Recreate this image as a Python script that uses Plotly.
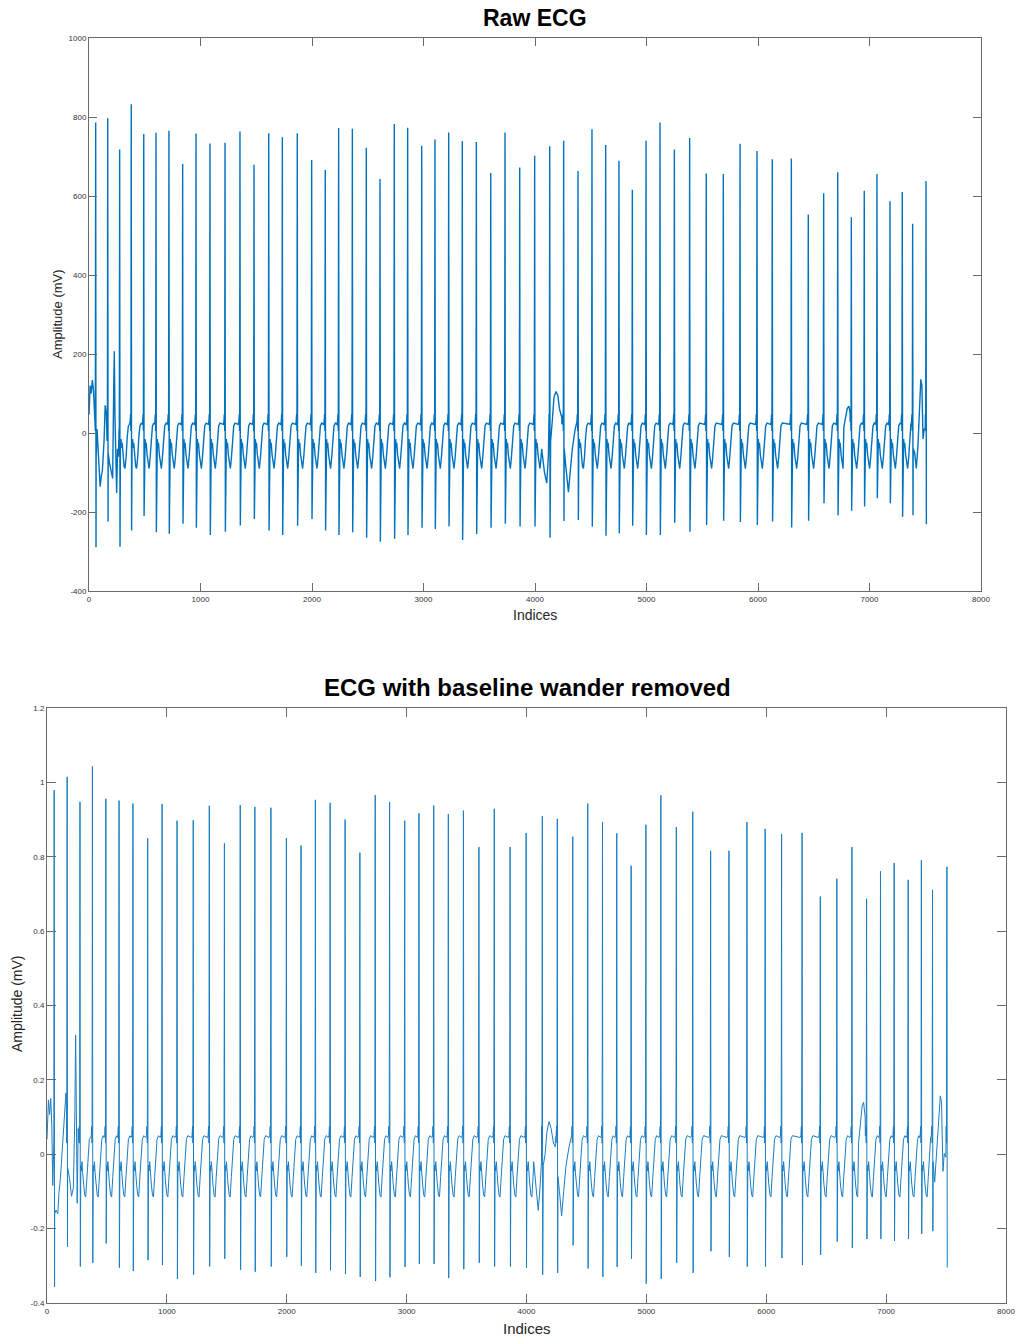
import plotly.graph_objects as go

# ---------------- data ----------------
beat_idx = [60, 168, 275, 379, 491, 601, 717, 840, 960, 1085, 1220, 1354, 1480, 1612, 1734, 1868,
            1997, 2119, 2239, 2362, 2487, 2610, 2738, 2858, 2984, 3103, 3226, 3348, 3474, 3603, 3731, 3863,
            3997, 4132, 4257, 4386, 4511, 4634, 4753, 4873, 4996, 5121, 5250, 5387, 5536, 5689, 5839,
            5991, 6128, 6299, 6451, 6589, 6715, 6837, 6953, 7067, 7184, 7294, 7387, 7507]

raw_r = [786, 797, 718, 832, 757, 760, 765, 681, 758, 733, 735, 763, 679, 759, 749, 759,
         691, 666, 772, 770, 722, 643, 782, 773, 727, 743, 761, 739, 737, 658, 761, 672,
         702, 726, 740, 663, 769, 729, 689, 616, 740, 786, 718, 747, 657, 656, 732,
         714, 693, 695, 553, 607, 660, 546, 613, 656, 587, 610, 530, 638]
raw_s = [-289, -224, -288, -247, -210, -251, -255, -230, -240, -258, -250, -234, -218, -247, -258, -235,
         -218, -247, -258, -251, -265, -275, -268, -258, -240, -243, -236, -271, -256, -240, -230, -237,
         -237, -265, -223, -220, -237, -260, -254, -235, -258, -258, -227, -250, -233, -222, -225,
         -233, -224, -239, -222, -178, -208, -197, -186, -165, -178, -212, -208, -231]

clean_r = [0.979, 1.015, 0.948, 1.043, 0.956, 0.951, 0.943, 0.850, 0.942, 0.897, 0.898, 0.937, 0.836,
           0.939, 0.934, 0.932, 0.850, 0.830, 0.953, 0.945, 0.900, 0.811, 0.966, 0.947, 0.897, 0.917,
           0.938, 0.915, 0.924, 0.826, 0.929, 0.826, 0.864, 0.909, 0.902, 0.854, 0.943, 0.893, 0.863,
           0.776, 0.886, 0.965, 0.880, 0.921, 0.816, 0.816, 0.893, 0.875, 0.861, 0.864, 0.693, 0.741,
           0.826, 0.687, 0.761, 0.783, 0.738, 0.791, 0.711, 0.773]
clean_s = [-0.357, -0.249, -0.302, -0.292, -0.240, -0.305, -0.314, -0.285, -0.298, -0.335, -0.324,
           -0.302, -0.281, -0.311, -0.316, -0.302, -0.276, -0.300, -0.319, -0.312, -0.322, -0.330,
           -0.341, -0.331, -0.303, -0.295, -0.295, -0.333, -0.309, -0.292, -0.302, -0.302, -0.305,
           -0.324, -0.319, -0.245, -0.307, -0.330, -0.303, -0.281, -0.348, -0.335, -0.292, -0.319,
           -0.261, -0.276, -0.302, -0.302, -0.279, -0.298, -0.271, -0.235, -0.252, -0.228, -0.228,
           -0.233, -0.228, -0.214, -0.207, -0.305]

# typical beat morphology (sample offset from R peak, level)
wave_offsets = [-16, -10, -6, -3, 7, 12, 17, 22, 30, 40, 48, 58, 68, 78, 90]
raw_wave = [22, 28, 48, 5, -30, -15, -38, -25, -55, -85, -90, -60, -10, 18, 25]
clean_wave = [0.045, 0.05, 0.075, 0.03, -0.03, -0.045, -0.02, -0.05, -0.08, -0.11, -0.115,
              -0.06, 0.01, 0.04, 0.05]
s_offset = 3

# irregular stretches (artefacts / baseline wander)
raw_art_x = [[0, 10, 20, 30, 40, 50, 56],
             [64, 72, 80, 92, 100, 110, 120, 135, 145, 155, 162],
             [172, 185, 200, 212, 222, 227, 233, 248, 256, 264, 270],
             [4060, 4085, 4105, 4120],
             [4140, 4155, 4170, 4188, 4205, 4220, 4240],
             [4262, 4275, 4290, 4300, 4315, 4335, 4360],
             [6770, 6785, 6800, 6815, 6825],
             [7392, 7405, 7420, 7435, 7448, 7460, 7470, 7480, 7490, 7500]]
raw_art_y = [[46, 120, 100, 134, 110, 60, 20],
             [-60, 10, -40, -100, -136, -110, -95, -20, 70, 50, -20],
             [-50, -78, -100, -115, 120, 207, 40, -152, -40, -60, 10],
             [-40, -100, -127, -60],
             [-20, 30, 90, 105, 95, 60, 40],
             [-40, -80, -130, -150, -100, -40, 10],
             [15, 40, 62, 68, 55],
             [-40, -50, -90, -30, 60, 136, 120, -15, 10, 12]]

clean_art_x = [[0, 12, 22, 31, 40, 48, 55],
               [64, 75, 90, 100, 112, 125, 138, 150, 158, 163],
               [172, 188, 205, 220, 232, 239, 246, 252, 260, 268],
               [4060, 4080, 4098, 4115, 4125],
               [4140, 4155, 4170, 4188, 4205, 4225, 4240],
               [4262, 4275, 4293, 4310, 4330, 4355, 4370],
               [6770, 6785, 6800, 6812, 6825],
               [7392, 7405, 7425, 7440, 7452, 7462, 7474, 7485, 7498]]
clean_art_y = [[0.04, 0.146, 0.107, 0.15, 0.08, -0.084, 0.0],
               [-0.16, -0.15, -0.16, -0.103, -0.065, 0.0, 0.06, 0.117, 0.165, 0.1],
               [-0.036, -0.065, -0.113, -0.09, 0.1, 0.32, -0.05, -0.132, 0.069, 0.03],
               [-0.02, -0.09, -0.151, -0.08, -0.02],
               [-0.03, 0.0, 0.06, 0.088, 0.07, 0.03, 0.02],
               [-0.06, -0.1, -0.166, -0.1, -0.03, 0.02, 0.04],
               [0.03, 0.09, 0.13, 0.14, 0.1],
               [-0.02, -0.075, 0.02, 0.079, 0.157, 0.141, -0.046, 0.002, -0.008]]

x_ticks = [0, 1000, 2000, 3000, 4000, 5000, 6000, 7000, 8000]
x_labels = ["0", "1000", "2000", "3000", "4000", "5000", "6000", "7000", "8000"]
raw_y_ticks = [-400, -200, 0, 200, 400, 600, 800, 1000]
raw_y_labels = ["-400", "-200", "0", "200", "400", "600", "800", "1000"]
clean_y_ticks = [-0.4, -0.2, 0, 0.2, 0.4, 0.6, 0.8, 1, 1.2]
clean_y_labels = ["-0.4", "-0.2", "0", "0.2", "0.4", "0.6", "0.8", "1", "1.2"]


def build_signal(rs, ss, wave, art_x, art_y):
    pre = [(o, v) for o, v in zip(wave_offsets, wave) if o < 0]
    post = [(o, v) for o, v in zip(wave_offsets, wave) if o > 0]
    first_pre = min(o for o, _ in pre)
    pts = []
    n = len(beat_idx)
    for i, b in enumerate(beat_idx):
        for o, v in pre:
            pts.append((b + o, v))
        if i < n - 1:
            limit = beat_idx[i + 1] + first_pre
            for o, v in post:
                if b + o < limit:
                    pts.append((b + o, v))
    for xs in art_x:
        lo, hi = min(xs), max(xs)
        pts = [p for p in pts if not (lo <= p[0] <= hi)]
    for xs, ys in zip(art_x, art_y):
        pts.extend(zip(xs, ys))
    for b, r, s in zip(beat_idx, rs, ss):
        pts.append((b, r))
        pts.append((b + s_offset, s))
    pts.sort(key=lambda p: p[0])
    return [p[0] for p in pts], [p[1] for p in pts]


raw_x, raw_y = build_signal(raw_r, raw_s, raw_wave, raw_art_x, raw_art_y)
clean_x, clean_y = build_signal(clean_r, clean_s, clean_wave, clean_art_x, clean_art_y)

# ---------------- figure ----------------
W, H = 1018, 1340
FONT = "Liberation Sans, Arial, Helvetica, sans-serif"
AX = "#6a6a6a"


def fx(x):
    return x / W


def fy(y):
    return 1 - y / H


fig = go.Figure()
fig.add_trace(go.Scatter(x=raw_x, y=raw_y, mode="lines",
                         line=dict(color="#0072BD", width=1.4), xaxis="x", yaxis="y",
                         showlegend=False))
fig.add_trace(go.Scatter(x=clean_x, y=clean_y, mode="lines",
                         line=dict(color="#1a7dc2", width=1.0), xaxis="x2", yaxis="y2",
                         showlegend=False))

common = dict(showline=True, linecolor=AX, linewidth=1, mirror="ticks", ticks="inside",
              tickcolor=AX, showgrid=False, zeroline=False, automargin=False,
              tickfont=dict(family=FONT, size=8, color="#333333"))

fig.update_layout(
    width=W, height=H,
    margin=dict(l=0, r=0, t=0, b=0, pad=0),
    paper_bgcolor="white", plot_bgcolor="white",
    xaxis=dict(domain=[fx(89), fx(981)], range=[0, 8000], tickvals=x_ticks, ticktext=x_labels,
               anchor="y", ticklen=8, **common),
    yaxis=dict(domain=[fy(591), fy(38)], range=[-400, 1000], tickvals=raw_y_ticks,
               ticktext=raw_y_labels, anchor="x", ticklen=8, **common),
    xaxis2=dict(domain=[fx(47), fx(1006)], range=[0, 8000], tickvals=x_ticks, ticktext=x_labels,
                anchor="y2", ticklen=9, **common),
    yaxis2=dict(domain=[fy(1303), fy(708)], range=[-0.4, 1.2], tickvals=clean_y_ticks,
                ticktext=clean_y_labels, anchor="x2", ticklen=9, **common),
)


def ann(text, x, y, size, bold=False, angle=0):
    fig.add_annotation(text=f"<b>{text}</b>" if bold else text, xref="paper", yref="paper",
                       x=fx(x), y=fy(y), xanchor="center", yanchor="middle",
                       showarrow=False, textangle=angle,
                       font=dict(family=FONT, size=size, color="#000000" if bold else "#262626"))


ann("Raw ECG", 535, 18, 23, bold=True)
ann("Indices", 535, 615, 14)
ann("Amplitude (mV)", 57, 314, 13, angle=-90)
ann("ECG with baseline wander removed", 527, 687, 24, bold=True)
ann("Indices", 527, 1328, 15)
ann("Amplitude (mV)", 17, 1004, 14, angle=-90)

fig.write_html("out.html", config={"displayModeBar": False},
               post_script="document.body.style.margin='0';document.body.style.overflow='hidden';")
